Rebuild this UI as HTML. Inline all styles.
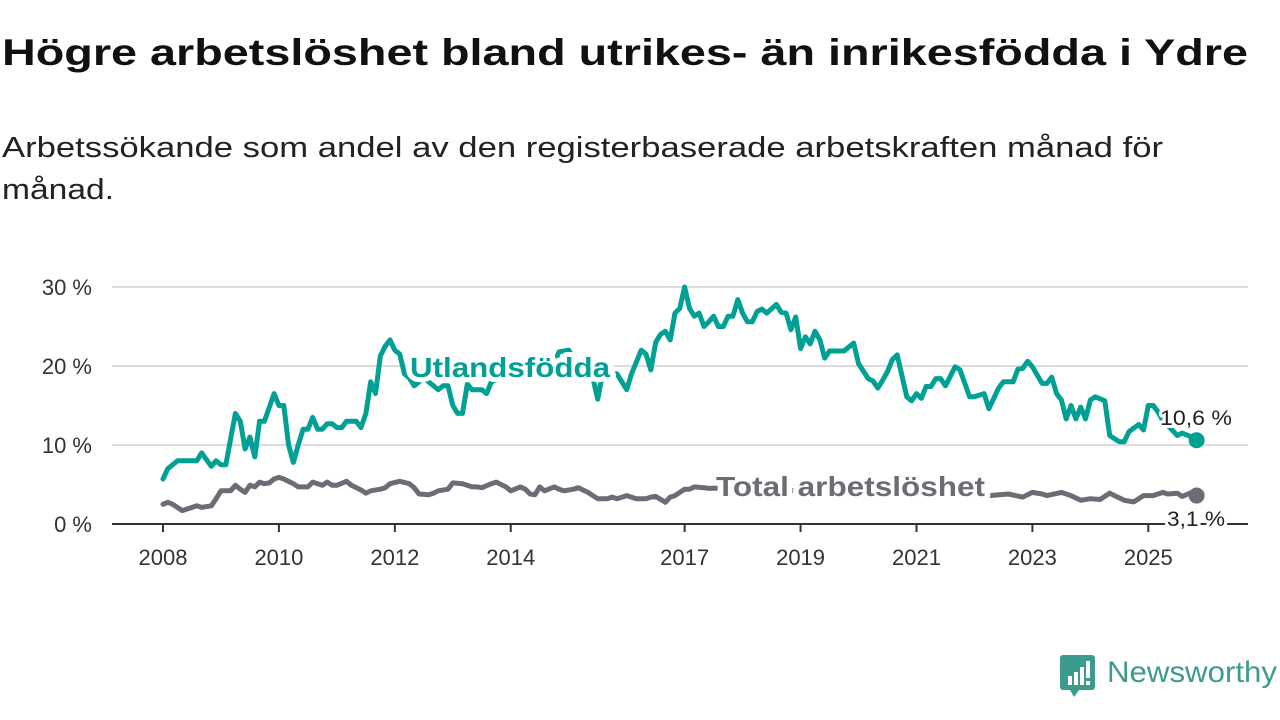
<!DOCTYPE html>
<html><head><meta charset="utf-8">
<style>
html,body{margin:0;padding:0;background:#fff;}
svg{display:block;font-family:"Liberation Sans",sans-serif;}
</style></head>
<body>
<svg id="chart" width="1280" height="720" viewBox="0 0 1280 720" xmlns="http://www.w3.org/2000/svg">
  <text x="2" y="65" font-size="37" font-weight="bold" fill="#111" textLength="1246" lengthAdjust="spacingAndGlyphs">Högre arbetslöshet bland utrikes- än inrikesfödda i Ydre</text>
  <text x="2" y="157" font-size="29" fill="#222" textLength="1161" lengthAdjust="spacingAndGlyphs">Arbetssökande som andel av den registerbaserade arbetskraften månad för</text>
  <text x="2" y="199" font-size="29" fill="#222" textLength="112" lengthAdjust="spacingAndGlyphs">månad.</text>
  <g id="grid"></g>
  <g id="series"></g>
  <g id="labels"></g>
  <g>
    <path d="M1063 655 h29 a3 3 0 0 1 3 3 v29 a3 3 0 0 1 -3 3 h-13 l-5 7 l-4 -7 h-7 a3 3 0 0 1 -3 -3 v-29 a3 3 0 0 1 3 -3 z" fill="#3d9a8f"/>
    <rect x="1068" y="676" width="4" height="9" fill="#fff"/>
    <rect x="1074" y="672" width="4" height="13" fill="#fff"/>
    <rect x="1080" y="667" width="4" height="18" fill="#fff"/>
    <rect x="1086" y="661" width="4" height="17" fill="#fff"/>
    <rect x="1086" y="681" width="4" height="4" fill="#fff"/>
    <text x="1107" y="682" font-size="30" fill="#3d9a8f" textLength="170" lengthAdjust="spacingAndGlyphs">Newsworthy</text>
  </g>
</svg>
<script>
// Months since Jan 2008 and values (%)
const foreignMonths = [0,1,3,7,8,10,11,12,13,15,16,17,18,19,20,21,23,24,25,26,27,28,29,30,31,32,33,34,35,36,37,38,40,41,42,43,44,45,46,47,48,49,50,51,52,53,54,55,57,58,59,60,61,62,63,64,66,67,68,70,72,74,76,78,80,82,84,86,88,89,90,91,94,96,97,99,100,101,102,103,104,105,106,107,108,109,110,111,112,113,114,115,116,117,118,119,120,121,122,123,124,125,127,128,129,130,131,132,133,134,135,136,137,138,141,143,144,146,147,148,149,150,151,152,154,155,156,157,158,159,160,161,162,164,165,167,168,170,171,173,174,175,176,177,178,179,180,182,183,184,185,186,187,188,189,190,191,192,193,195,196,198,199,200,202,203,204,205,206,207,208,210,211,213,214];
const foreignValues = [5.7,7,8,8,9,7.3,8,7.5,7.5,14,13,9.5,11,8.5,13,13,16.5,15,15,10,7.8,10,12,12,13.5,12,12,12.7,12.7,12.2,12.2,13,13,12.2,14,18,16.5,21.3,22.5,23.3,22,21.5,19,18.5,17.5,18,18.5,18,17,17.5,17.5,15,14,14,17.7,17,17,16.5,18,18.5,19,18.5,19.5,20,19,21.8,22,20,19,18.5,15.8,19,19,17,19,22,21.5,19.5,23,24,24.4,23.3,26.7,27.3,30,27.3,26.3,26.7,25,25.6,26.3,25,25,26.3,26.3,28.4,26.7,25.6,25.6,26.9,27.2,26.7,27.8,26.8,26.7,24.6,26.2,22.2,23.7,22.8,24.4,23.3,21,21.9,21.9,22.9,20.3,18.4,18.1,17.2,18.2,19.3,20.8,21.4,16.1,15.6,16.5,15.9,17.4,17.4,18.4,18.4,17.5,19.9,19.5,16.1,16.1,16.5,14.6,17.2,18,18,18,19.6,19.7,20.6,19.9,17.8,17.8,18.6,16.5,15.7,13.3,15,13.3,14.8,13.3,15.7,16.1,15.6,11.2,10.4,10.4,11.7,12.6,11.9,15,15,14.2,13.1,12.5,11.2,11.5,11,10.6];
const totalMonths = [0,1,2,4,5,7,8,10,11,12,14,15,16,17,18,19,20,21,22,23,24,25,27,28,30,31,32,33,34,35,36,38,39,41,42,43,45,46,47,49,51,52,53,55,56,57,59,60,62,64,65,66,68,69,71,72,74,75,76,77,78,79,81,82,83,85,86,88,90,92,93,94,96,98,100,101,102,104,105,106,108,109,110,112,113,118,124,130,136,142,148,154,160,166,171,175,178,180,182,183,186,188,190,192,194,196,197,199,201,203,205,207,208,210,211,213,214];
const totalValues = [2.5,2.75,2.5,1.7,1.9,2.3,2.1,2.3,3.2,4.2,4.2,4.9,4.4,4,4.9,4.7,5.3,5.1,5.2,5.7,5.9,5.7,5.1,4.7,4.7,5.3,5.1,4.9,5.3,4.9,4.9,5.4,4.9,4.3,3.9,4.2,4.4,4.6,5.1,5.4,5.1,4.6,3.8,3.7,3.9,4.2,4.4,5.2,5.1,4.7,4.7,4.6,5.1,5.3,4.7,4.2,4.7,4.4,3.8,3.7,4.7,4.2,4.7,4.4,4.2,4.4,4.6,4.0,3.2,3.2,3.4,3.2,3.6,3.2,3.2,3.4,3.5,2.75,3.4,3.6,4.4,4.4,4.7,4.6,4.5,4.6,4.2,4.2,4.4,4.6,4.2,4.0,3.7,3.5,3.6,3.8,3.4,4.0,3.8,3.6,4.0,3.6,3.0,3.2,3.1,3.9,3.6,3.0,2.8,3.6,3.6,4.0,3.8,3.9,3.5,4.0,3.6,3.2,3.1];
const yTicks = [0,10,20,30];
const yTickLabels = ["0 %","10 %","20 %","30 %"];
const xTickYears = [2008,2010,2012,2014,2017,2019,2021,2023,2025];

const NS = "http://www.w3.org/2000/svg";
const X0 = 163, PX_PER_MONTH = 4.83;
const Y0 = 524, PX_PER_PCT = 7.9;
function xScale(m){ return X0 + m*PX_PER_MONTH; }
function yScale(v){ return Y0 - v*PX_PER_PCT; }
function mk(tag, attrs, parent){ const e=document.createElementNS(NS,tag); for(const k in attrs) e.setAttribute(k,attrs[k]); parent.appendChild(e); return e; }

const grid = document.getElementById('grid');
yTicks.forEach((t,i)=>{
  if(t>0){
    const gl = mk('line',{x1:112,x2:1248,y1:yScale(t),y2:yScale(t),stroke:'#dcdcdc','stroke-width':2},grid);
    
    
  }
  const lb = mk('text',{x:92,y:yScale(t)+8,'text-anchor':'end','font-size':22,fill:'#333'},grid);
  lb.textContent = yTickLabels[i];
  
  
});
const axis = mk('line',{x1:112,x2:1248,y1:Y0,y2:Y0,stroke:'#333','stroke-width':2},grid);


xTickYears.forEach(yr=>{
  const x = xScale((yr-2008)*12);
  const tk = mk('line',{x1:x,x2:x,y1:Y0,y2:Y0+8,stroke:'#333','stroke-width':2},grid);
  
  
  const lb = mk('text',{x:x,y:565,'text-anchor':'middle','font-size':22,fill:'#333'},grid);
  lb.textContent = yr;
  
  
});

const series = document.getElementById('series');
function drawLine(months, vals, color, name){
  const d = months.map((m,i)=>(i?'L':'M')+xScale(m).toFixed(1)+' '+yScale(vals[i]).toFixed(1)).join(' ');
  const p = mk('path',{d:d,fill:'none',stroke:color,'stroke-width':5,'stroke-linejoin':'round','stroke-linecap':'round'},series);
  
  
  const n = months.length-1;
  const c = mk('circle',{cx:xScale(months[n]),cy:yScale(vals[n]),r:8,fill:color},series);
  
  
}
drawLine(totalMonths,totalValues,'#6d6c74','total');
drawLine(foreignMonths,foreignValues,'#00a094','foreign-born');

const labels = document.getElementById('labels');
function label(txt,x,y,size,weight,color,anchor,name,halo,len){
  const t = mk('text',{x:x,y:y,'font-size':size,'font-weight':weight,fill:color,'text-anchor':anchor,stroke:'#fff','stroke-width':halo,'paint-order':'stroke','stroke-linejoin':'round'},labels);
  if(len){ t.setAttribute('textLength',len); t.setAttribute('lengthAdjust','spacingAndGlyphs'); }
  t.textContent = txt;
  
  
}
label('Utlandsfödda',410,377,28,'bold','#00a094','start','foreign-born-label',10,200);
label('Total arbetslöshet',716,496,28,'bold','#6d6c74','start','total-label',10,269);
label('10,6 %',1196,425,21,'normal','#222','middle','foreign-born-end-value',6,72);
label('3,1 %',1196,526,21,'normal','#222','middle','total-end-value',6,58);
</script>
</body></html>
